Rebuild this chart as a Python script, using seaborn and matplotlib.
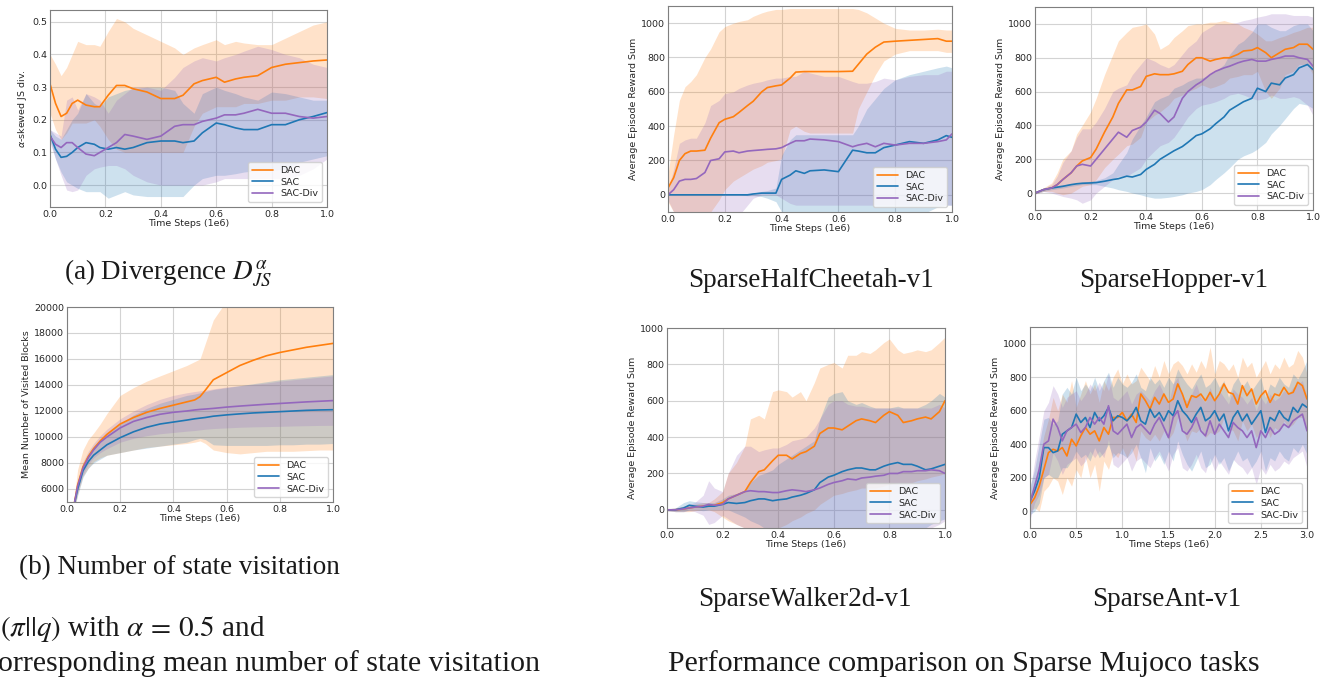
import numpy as np
import matplotlib
matplotlib.use("Agg")
import matplotlib.pyplot as plt
import seaborn as sns

sns.set_theme(style="whitegrid")
plt.rcParams["font.family"] = ["DejaVu Sans"]
plt.rcParams["mathtext.fontset"] = "dejavusans"

labels = ["DAC", "SAC", "SAC-Div"]
colors = ["#ff7f0e", "#1f77b4", "#9467bd"]

# ---- (a) divergence
a_x = [0, 0.02, 0.04, 0.06, 0.08, 0.1, 0.13, 0.16, 0.18, 0.21, 0.24, 0.27, 0.3, 0.35, 0.4,
       0.45, 0.48, 0.52, 0.55, 0.6, 0.63, 0.67, 0.7, 0.75, 0.8, 0.85, 0.9, 0.95, 1.0]
a_dac = [0.31, 0.25, 0.21, 0.22, 0.25, 0.26, 0.245, 0.24, 0.24, 0.275, 0.305, 0.305, 0.295, 0.285, 0.265,
         0.265, 0.275, 0.31, 0.32, 0.33, 0.315, 0.325, 0.33, 0.335, 0.36, 0.37, 0.375, 0.38, 0.383]
a_dac_hi = [0.40, 0.37, 0.335, 0.36, 0.40, 0.44, 0.43, 0.43, 0.425, 0.47, 0.51, 0.50, 0.48, 0.46, 0.44,
            0.42, 0.40, 0.42, 0.43, 0.445, 0.43, 0.44, 0.435, 0.43, 0.43, 0.45, 0.47, 0.49, 0.50]
a_dac_lo = [0.22, 0.17, 0.14, 0.16, 0.19, 0.19, 0.19, 0.20, 0.18, 0.14, 0.11, 0.10, 0.10, 0.10, 0.10,
            0.10, 0.10, 0.18, 0.22, 0.24, 0.24, 0.24, 0.25, 0.25, 0.26, 0.26, 0.27, 0.27, 0.265]
a_sac = [0.155, 0.11, 0.085, 0.088, 0.10, 0.115, 0.13, 0.125, 0.115, 0.11, 0.115, 0.11, 0.115, 0.13, 0.135,
         0.135, 0.13, 0.135, 0.16, 0.19, 0.185, 0.175, 0.17, 0.17, 0.185, 0.185, 0.2, 0.21, 0.222]
a_sac_hi = [0.17, 0.15, 0.14, 0.17, 0.2, 0.22, 0.28, 0.25, 0.24, 0.27, 0.28, 0.29, 0.295, 0.30, 0.30,
            0.29, 0.25, 0.22, 0.28, 0.30, 0.29, 0.28, 0.27, 0.26, 0.285, 0.28, 0.27, 0.26, 0.26]
a_sac_lo = [0.14, 0.08, 0.04, 0.01, 0.0, -0.01, -0.02, -0.02, -0.02, -0.04, -0.03, -0.02, -0.03, -0.035, -0.035,
            -0.035, -0.035, 0.0, 0.02, 0.03, 0.03, 0.035, 0.04, 0.045, 0.045, 0.05, 0.07, 0.08, 0.09]
a_div = [0.15, 0.125, 0.115, 0.13, 0.13, 0.115, 0.095, 0.09, 0.10, 0.115, 0.13, 0.155, 0.15, 0.14, 0.15,
         0.18, 0.185, 0.185, 0.195, 0.205, 0.215, 0.215, 0.22, 0.232, 0.22, 0.22, 0.21, 0.205, 0.21]
a_div_hi = [0.17, 0.16, 0.15, 0.26, 0.27, 0.23, 0.28, 0.27, 0.26, 0.22, 0.26, 0.28, 0.30, 0.30, 0.29,
            0.33, 0.36, 0.38, 0.39, 0.38, 0.39, 0.40, 0.41, 0.425, 0.415, 0.40, 0.39, 0.37, 0.36]
a_div_lo = [0.13, 0.08, 0.03, -0.015, -0.02, -0.015, 0.03, 0.05, 0.055, 0.06, 0.06, 0.05, 0.03, 0.01, 0.0,
            0.0, 0.0, 0.0, 0.0, 0.01, 0.02, 0.02, 0.02, 0.02, 0.02, 0.02, 0.03, 0.05, 0.08]

# ---- (b) visited blocks
b_x = [0.025, 0.04, 0.06, 0.08, 0.1, 0.125, 0.15, 0.2, 0.25, 0.3, 0.35, 0.4, 0.45, 0.48, 0.5,
       0.52, 0.55, 0.6, 0.65, 0.7, 0.75, 0.8, 0.85, 0.9, 0.95, 1.0]
b_dac = [4600, 6300, 7700, 8500, 9100, 9700, 10200, 11000, 11500, 11900, 12200, 12450, 12700, 12850, 13100,
         13600, 14400, 14950, 15500, 15900, 16250, 16500, 16700, 16900, 17050, 17200]
b_dac_hi = [5000, 7500, 9000, 9800, 10300, 11000, 11800, 13200, 13800, 14300, 14700, 15100, 15500, 15800, 16000,
            17200, 19000, 20500, 21000, 21000, 21000, 21000, 21000, 21000, 21000, 21000]
b_dac_lo = [4200, 5600, 7000, 7600, 8100, 8400, 8600, 8800, 9000, 9200, 9300, 9400, 9500, 9600, 9700,
            9500, 9000, 8800, 8700, 8800, 8900, 8900, 8900, 8950, 9000, 9000]
b_sac = [4600, 6000, 7400, 8100, 8600, 9000, 9400, 9950, 10400, 10750, 11000, 11150, 11300, 11400, 11450,
         11500, 11600, 11700, 11780, 11850, 11900, 11950, 12000, 12050, 12080, 12100]
b_sac_hi = [4900, 6500, 7900, 8700, 9300, 9800, 10300, 11000, 11700, 12200, 12600, 12900, 13200, 13300, 13400,
            13500, 13650, 13800, 13950, 14100, 14250, 14400, 14500, 14600, 14700, 14800]
b_sac_lo = [4300, 5500, 6900, 7600, 8000, 8300, 8600, 8800, 9000, 9150, 9300, 9450, 9600, 9800, 9900,
            9800, 9400, 9350, 9350, 9350, 9350, 9400, 9400, 9450, 9450, 9500]
b_div = [4600, 6200, 7600, 8400, 9000, 9600, 10000, 10700, 11200, 11500, 11750, 11900, 12000, 12080, 12120,
         12150, 12200, 12300, 12380, 12450, 12520, 12580, 12640, 12700, 12750, 12800]
b_div_hi = [4900, 6600, 8100, 8900, 9500, 10100, 10600, 11400, 12000, 12500, 12900, 13200, 13400, 13500, 13550,
            13600, 13700, 13850, 13950, 14050, 14150, 14300, 14400, 14500, 14600, 14700]
b_div_lo = [4300, 5800, 7100, 7900, 8400, 8800, 9100, 9600, 9900, 10100, 10250, 10350, 10450, 10500, 10550,
            10600, 10650, 10700, 10750, 10780, 10800, 10820, 10850, 10870, 10890, 10900]

# ---- SparseHalfCheetah-v1
c_x = [0, 0.02, 0.04, 0.06, 0.08, 0.1, 0.13, 0.15, 0.18, 0.2, 0.23, 0.25, 0.28, 0.3, 0.33, 0.35, 0.38, 0.4,
       0.43, 0.45, 0.48, 0.5, 0.55, 0.6, 0.65, 0.67, 0.7, 0.73, 0.76, 0.8, 0.85, 0.9, 0.95, 0.98, 1.0]
c_dac = [40, 100, 200, 240, 255, 255, 260, 330, 420, 440, 455, 480, 520, 545, 600, 625, 635, 640,
         680, 715, 718, 718, 718, 718, 720, 760, 820, 860, 890, 895, 900, 905, 910, 895, 895]
c_dac_hi = [120, 350, 550, 630, 660, 700, 800, 850, 950, 980, 1000, 1010, 1020, 1040, 1060, 1070, 1080, 1080,
            1085, 1085, 1085, 1085, 1085, 1085, 1085, 1080, 1060, 1030, 1000, 970, 960, 960, 965, 960, 960]
c_dac_lo = [-40, -100, -150, -150, -150, -150, -150, -100, -30, 30, 80, 100, 130, 150, 170, 190, 200, 210,
            380, 400, 370, 360, 360, 360, 360, 500, 600, 700, 780, 820, 840, 840, 840, 830, 830]
c_sac = [0, 0, 0, 0, 0, 0, 0, 0, 0, 0, 0, 0, 0, 5, 10, 10, 10, 90,
         115, 140, 125, 140, 145, 135, 260, 255, 245, 245, 275, 290, 310, 300, 320, 345, 335]
c_sac_hi = [0, 0, 0, 0, 0, 0, 0, 0, 0, 0, 0, 0, 5, 10, 20, 25, 40, 230,
            320, 350, 350, 350, 350, 350, 350, 400, 500, 560, 620, 670, 700, 720, 740, 750, 740]
c_sac_lo = [0, 0, 0, 0, 0, 0, 0, 0, 0, 0, 0, 0, -5, -5, -10, -20, -40, -100,
            -110, -110, -110, -110, -110, -110, -110, -110, -110, -110, -110, -110, -110, -110, -70, -60, -60]
c_div = [0, 30, 80, 90, 90, 95, 130, 200, 210, 250, 255, 245, 255, 258, 262, 265, 268, 275,
         300, 315, 315, 325, 320, 310, 280, 290, 300, 280, 300, 290, 300, 300, 310, 320, 355]
c_div_hi = [30, 150, 300, 320, 330, 330, 420, 520, 550, 590, 600, 620, 640, 650, 660, 670, 680, 680,
            690, 690, 720, 710, 690, 690, 660, 650, 650, 660, 680, 670, 690, 700, 700, 720, 720]
c_div_lo = [-30, -100, -150, -150, -150, -150, -150, -150, -150, -150, -150, -120, -60, -20, 0, 0, 0, -20,
            -50, -60, -60, -60, -60, -60, -60, -60, -60, -60, -60, -60, -60, -60, -60, -60, -60]

# ---- SparseHopper-v1
h_x = [0, 0.03, 0.06, 0.08, 0.1, 0.13, 0.15, 0.17, 0.2, 0.22, 0.25, 0.28, 0.3, 0.33, 0.35, 0.38, 0.4, 0.43,
       0.45, 0.48, 0.5, 0.53, 0.55, 0.58, 0.6, 0.63, 0.65, 0.68, 0.7, 0.73, 0.75, 0.78, 0.8, 0.83, 0.85,
       0.88, 0.9, 0.93, 0.95, 0.98, 1.0]
h_dac = [0, 20, 30, 50, 80, 120, 160, 190, 210, 260, 360, 450, 530, 610, 610, 630, 690, 705,
         700, 700, 705, 720, 760, 800, 800, 780, 790, 800, 800, 820, 840, 845, 860, 830, 800,
         830, 850, 860, 880, 880, 850]
h_dac_hi = [5, 30, 60, 120, 200, 250, 350, 400, 480, 560, 700, 820, 900, 950, 980, 990, 1000, 940,
            850, 880, 920, 960, 990, 1000, 1000, 1010, 1010, 1020, 1010, 1000, 980, 960, 940, 900, 900,
            920, 930, 950, 960, 980, 980]
h_dac_lo = [-5, 10, 10, 0, -10, 0, 20, 40, 50, 80, 150, 200, 230, 280, 290, 330, 420, 460,
            480, 520, 560, 580, 600, 620, 640, 620, 630, 650, 680, 690, 700, 700, 720, 600, 560,
            620, 700, 720, 760, 760, 700]
h_sac = [0, 20, 30, 35, 40, 50, 55, 58, 60, 62, 70, 80, 85, 100, 95, 110, 140, 170,
         200, 230, 250, 275, 300, 340, 350, 380, 410, 450, 490, 520, 540, 560, 620, 600, 650,
         640, 680, 700, 740, 760, 730]
h_sac_hi = [5, 25, 40, 45, 50, 55, 60, 65, 70, 75, 90, 120, 170, 240, 320, 400, 450, 540,
            560, 580, 620, 640, 660, 680, 680, 700, 720, 760, 820, 880, 900, 950, 1000, 1000, 980,
            960, 960, 990, 1000, 1000, 960]
h_sac_lo = [-5, 10, 20, 25, 30, 40, 45, 50, 50, 50, 40, 30, 20, 10, 0, -10, -20, -30,
            -30, -25, -20, -10, 0, 10, 20, 50, 80, 120, 150, 200, 220, 240, 260, 300, 350,
            400, 440, 500, 530, 520, 500]
h_div = [0, 20, 30, 50, 80, 120, 160, 170, 160, 200, 260, 320, 360, 330, 370, 390, 420, 490,
         470, 420, 450, 560, 600, 640, 660, 700, 720, 740, 750, 770, 780, 790, 780, 780, 790,
         800, 810, 810, 800, 790, 750]
h_div_hi = [5, 30, 50, 100, 180, 250, 330, 380, 380, 420, 500, 600, 620, 640, 700, 760, 800, 780,
            760, 740, 760, 820, 860, 900, 950, 980, 1000, 1000, 1000, 1010, 1020, 1030, 1040, 1050, 1060,
            1060, 1060, 1050, 1050, 1050, 1040]
h_div_lo = [-5, 10, 0, -10, -20, -30, -40, -60, -40, 0, 40, 80, 100, 100, 120, 150, 200, 250,
            280, 300, 330, 400, 450, 500, 520, 530, 540, 560, 580, 590, 580, 560, 550, 560, 580,
            560, 560, 570, 560, 520, 460]

# ---- SparseWalker2d-v1
w_x = h_x
w_dac = [0, 0, 5, 10, 15, 20, 20, 25, 40, 60, 80, 100, 150, 210, 220, 270, 300, 300,
         280, 310, 320, 350, 420, 450, 450, 440, 460, 490, 500, 490, 480, 520, 540, 520, 480,
         490, 500, 510, 500, 540, 600]
w_dac_hi = [5, 10, 20, 30, 30, 40, 40, 60, 100, 200, 260, 350, 500, 520, 500, 650, 660, 650,
            620, 650, 600, 700, 780, 800, 810, 780, 850, 850, 870, 860, 880, 920, 940, 880, 860,
            870, 880, 870, 880, 920, 950]
w_dac_lo = [-5, -10, -10, -10, -5, 0, 0, -10, -40, -60, -80, -100, -120, -120, -120, -110, -100, -80,
            -60, -40, -20, 0, 30, 60, 80, 90, 100, 110, 120, 120, 120, 130, 140, 150, 150,
            150, 160, 170, 180, 190, 200]
w_sac = [0, 0, 10, 25, 20, 15, 20, 20, 30, 40, 35, 40, 50, 60, 60, 50, 55, 60,
         70, 80, 90, 110, 150, 180, 190, 210, 220, 230, 230, 220, 220, 240, 250, 260, 250,
         250, 240, 220, 225, 240, 250]
w_sac_hi = [5, 10, 40, 50, 45, 40, 40, 40, 60, 80, 90, 110, 150, 190, 200, 220, 250, 280,
            300, 330, 350, 380, 500, 620, 640, 650, 600, 580, 590, 570, 560, 560, 560, 570, 560,
            560, 560, 580, 600, 640, 620]
w_sac_lo = [-5, -10, -10, 0, 0, -5, 0, 0, 0, 0, -20, -40, -60, -80, -100, -120, -120, -120,
            -120, -120, -120, -120, -120, -120, -120, -120, -120, -120, -120, -120, -120, -120, -120, -120, -120,
            -120, -120, -100, -80, -60, -50]
w_div = [0, 0, 5, 10, 15, 20, 30, 25, 30, 60, 80, 100, 105, 100, 100, 95, 95, 105,
         110, 105, 100, 110, 120, 140, 150, 160, 170, 165, 175, 180, 185, 190, 200, 200, 210,
         210, 215, 215, 220, 215, 200]
w_div_hi = [5, 10, 20, 30, 40, 80, 160, 120, 100, 200, 300, 350, 350, 320, 330, 340, 340, 360,
            380, 390, 400, 450, 500, 580, 600, 600, 580, 570, 570, 560, 560, 560, 560, 560, 560,
            560, 560, 560, 560, 580, 560]
w_div_lo = [-5, -10, -10, -5, -10, -30, -80, -70, -30, -50, -80, -100, -120, -120, -120, -120, -120, -120,
            -120, -120, -120, -120, -120, -120, -120, -120, -120, -120, -120, -120, -120, -120, -120, -120, -120,
            -120, -120, -110, -100, -80, -60]

# ---- SparseAnt-v1 (x in 1e6, every 0.05)
t_x = [0.0, 0.05, 0.1, 0.15, 0.2, 0.25, 0.3, 0.35, 0.4, 0.45, 0.5, 0.55, 0.6, 0.65, 0.7, 0.75, 0.8, 0.85, 0.9, 0.95,
       1.0, 1.05, 1.1, 1.15, 1.2, 1.25, 1.3, 1.35, 1.4, 1.45, 1.5, 1.55, 1.6, 1.65, 1.7, 1.75, 1.8, 1.85, 1.9, 1.95,
       2.0, 2.05, 2.1, 2.15, 2.2, 2.25, 2.3, 2.35, 2.4, 2.45, 2.5, 2.55, 2.6, 2.65, 2.7, 2.75, 2.8, 2.85, 2.9, 2.95, 3.0]
t_dac = [40, 80, 150, 250, 350, 370, 360, 380, 330, 430, 390, 450, 500, 460, 480, 420, 500, 460, 560, 560,
         590, 540, 580, 530, 700, 660, 610, 680, 640, 700, 650, 670, 760, 700, 620, 690, 680, 700, 660, 710,
         660, 700, 760, 710, 700, 640, 750, 690, 730, 640, 690, 720, 650, 700, 690, 740, 700, 710, 770, 750, 670]
t_dac_hi = [100, 150, 300, 450, 550, 680, 600, 700, 650, 780, 620, 700, 780, 700, 760, 650, 780, 720, 800, 850,
            760, 820, 760, 780, 860, 820, 780, 870, 800, 900, 820, 880, 900, 870, 820, 880, 830, 900, 850, 980,
            820, 900, 880, 840, 880, 800, 920, 860, 890, 800, 850, 900, 820, 880, 850, 920, 860, 880, 960, 920, 820]
t_dac_lo = [0, 20, 0, 120, 150, 200, 180, 100, 200, 150, 250, 200, 330, 200, 280, 120, 300, 250, 350, 320,
            380, 320, 380, 300, 480, 440, 420, 460, 420, 480, 430, 470, 560, 500, 420, 480, 470, 500, 440, 470,
            460, 480, 560, 500, 480, 420, 540, 480, 520, 440, 480, 520, 440, 500, 480, 540, 500, 520, 560, 560, 480]
t_sac = [60, 120, 200, 380, 380, 350, 360, 460, 480, 500, 580, 530, 560, 500, 590, 540, 570, 620, 540, 570,
         560, 540, 570, 620, 540, 520, 610, 560, 590, 540, 600, 570, 660, 600, 570, 530, 580, 620, 540, 560,
         600, 540, 580, 480, 560, 600, 540, 580, 520, 560, 600, 470, 560, 540, 600, 560, 540, 620, 590, 640, 620]
t_sac_hi = [150, 250, 400, 550, 560, 520, 540, 700, 740, 700, 800, 720, 760, 720, 800, 720, 780, 830, 740, 800,
            760, 740, 770, 820, 740, 720, 800, 760, 790, 740, 800, 760, 850, 800, 760, 730, 780, 820, 740, 760,
            800, 740, 780, 680, 760, 800, 740, 780, 720, 760, 800, 680, 760, 740, 800, 760, 740, 820, 790, 840, 900]
t_sac_lo = [-20, 0, 50, 200, 220, 200, 200, 260, 260, 300, 360, 320, 340, 300, 380, 320, 350, 400, 320, 350,
            340, 320, 350, 400, 320, 230, 380, 300, 340, 280, 360, 300, 420, 340, 280, 240, 300, 360, 260, 280,
            340, 280, 320, 240, 300, 360, 300, 320, 260, 300, 360, 240, 320, 300, 360, 320, 300, 380, 350, 400, 340]
t_div = [50, 150, 250, 400, 420, 550, 500, 420, 480, 500, 520, 470, 500, 560, 520, 560, 520, 630, 480, 460,
         490, 520, 440, 500, 520, 490, 460, 520, 560, 500, 440, 560, 600, 480, 460, 500, 560, 480, 450, 540,
         460, 520, 480, 440, 530, 500, 480, 440, 480, 380, 480, 440, 500, 460, 480, 520, 500, 540, 560, 580, 480]
t_div_hi = [120, 300, 450, 600, 650, 750, 700, 620, 680, 700, 720, 660, 700, 760, 720, 770, 720, 820, 680, 660,
            690, 720, 640, 700, 720, 690, 660, 720, 760, 700, 640, 760, 800, 680, 660, 700, 760, 680, 650, 740,
            660, 720, 680, 640, 730, 700, 680, 640, 680, 600, 680, 640, 700, 660, 680, 720, 700, 740, 760, 780, 680]
t_div_lo = [-50, 50, 100, 200, 220, 350, 300, 220, 280, 300, 320, 270, 300, 360, 320, 360, 320, 430, 280, 260,
            290, 320, 240, 300, 320, 290, 260, 320, 360, 300, 240, 340, 380, 260, 240, 280, 340, 260, 230, 320,
            240, 300, 260, 220, 310, 280, 260, 220, 260, 160, 260, 220, 280, 240, 260, 300, 280, 320, 340, 360, 260]

W, H = 1321, 682
fig = plt.figure(figsize=(W / 100, H / 100), dpi=100)


def px_axes(left, right, top, bottom):
    return fig.add_axes([left / W, 1 - bottom / H, (right - left) / W, (bottom - top) / H])


def panel(ax, x, series, ylabel, ylim, yticks, xlim, xticks):
    for (m, lo, hi), c in zip(series, colors):
        ax.fill_between(x, lo, hi, color=c, alpha=0.22, lw=0)
    for (m, lo, hi), c, lab in zip(series, colors, labels):
        sns.lineplot(x=x, y=m, ax=ax, color=c, label=lab, lw=1.2)
    ax.set_xlim(*xlim)
    ax.set_ylim(*ylim)
    ax.set_xticks(xticks)
    ax.set_yticks(yticks)
    ax.set_xlabel("Time Steps (1e6)", fontsize=6.8, labelpad=0.5)
    ax.set_ylabel(ylabel, fontsize=6.8, labelpad=2)
    ax.tick_params(labelsize=6.8, length=0, pad=2)
    ax.grid(color="#d3d3d3", lw=0.8)
    for s in ax.spines.values():
        s.set_color("#7f7f7f")
        s.set_linewidth(0.8)
    ax.legend(loc="lower right", fontsize=6.8, frameon=True, framealpha=0.8,
              edgecolor="#cccccc", fancybox=True, handlelength=2.2, borderpad=0.4, labelspacing=0.3)


x01 = (0, 1.0)
t01 = [0, 0.2, 0.4, 0.6, 0.8, 1.0]

ax = px_axes(50, 327, 10, 207)
panel(ax, a_x, [(a_dac, a_dac_lo, a_dac_hi), (a_sac, a_sac_lo, a_sac_hi), (a_div, a_div_lo, a_div_hi)],
      r"$\alpha$-skewed JS div.", (-0.067, 0.536), [0, 0.1, 0.2, 0.3, 0.4, 0.5], x01, t01)

ax = px_axes(67, 333, 307, 502)
panel(ax, b_x, [(b_dac, b_dac_lo, b_dac_hi), (b_sac, b_sac_lo, b_sac_hi), (b_div, b_div_lo, b_div_hi)],
      "Mean Number of Visited Blocks", (5000, 20000), list(range(6000, 20001, 2000)), x01, t01)

reward_ticks = [0, 200, 400, 600, 800, 1000]
ax = px_axes(668, 952, 6, 212)
panel(ax, c_x, [(c_dac, c_dac_lo, c_dac_hi), (c_sac, c_sac_lo, c_sac_hi), (c_div, c_div_lo, c_div_hi)],
      "Average Episode Reward Sum", (-100, 1100), reward_ticks, x01, t01)

ax = px_axes(1035, 1313, 7, 210)
panel(ax, h_x, [(h_dac, h_dac_lo, h_dac_hi), (h_sac, h_sac_lo, h_sac_hi), (h_div, h_div_lo, h_div_hi)],
      "Average Episode Reward Sum", (-100, 1100), reward_ticks, x01, t01)

ax = px_axes(667, 945, 328, 528)
panel(ax, w_x, [(w_dac, w_dac_lo, w_dac_hi), (w_sac, w_sac_lo, w_sac_hi), (w_div, w_div_lo, w_div_hi)],
      "Average Episode Reward Sum", (-100, 1000), reward_ticks, x01, t01)

ax = px_axes(1030, 1307, 327, 528)
panel(ax, t_x, [(t_dac, t_dac_lo, t_dac_hi), (t_sac, t_sac_lo, t_sac_hi), (t_div, t_div_lo, t_div_hi)],
      "Average Episode Reward Sum", (-100, 1100), reward_ticks, (0, 3.0),
      [0, 0.5, 1.0, 1.5, 2.0, 2.5, 3.0])

# captions
serif = dict(family="Liberation Serif", color="#1a1a1a")


def caption(xp, yp, s, ha="center", size=19.5):
    fig.text(xp / W, 1 - yp / H, s, ha=ha, va="center", fontsize=size, math_fontfamily="stix", **serif)


caption(64, 273, r"(a) Divergence $D^{\alpha}_{JS}$", ha="left")
caption(19, 568, "(b) Number of state visitation", ha="left")
caption(0, 629, r"$(\pi||q)$ with $\alpha\,=\,0.5$ and", ha="left", size=21)
caption(-2, 664, "orresponding mean number of state visitation", ha="left", size=21.5)
caption(811, 280, "SparseHalfCheetah-v1")
caption(1174, 280, "SparseHopper-v1")
caption(805, 600, "SparseWalker2d-v1")
caption(1167, 600, "SparseAnt-v1")
caption(964, 664, "Performance comparison on Sparse Mujoco tasks", size=21.5)

fig.savefig("out.png", dpi=100)
